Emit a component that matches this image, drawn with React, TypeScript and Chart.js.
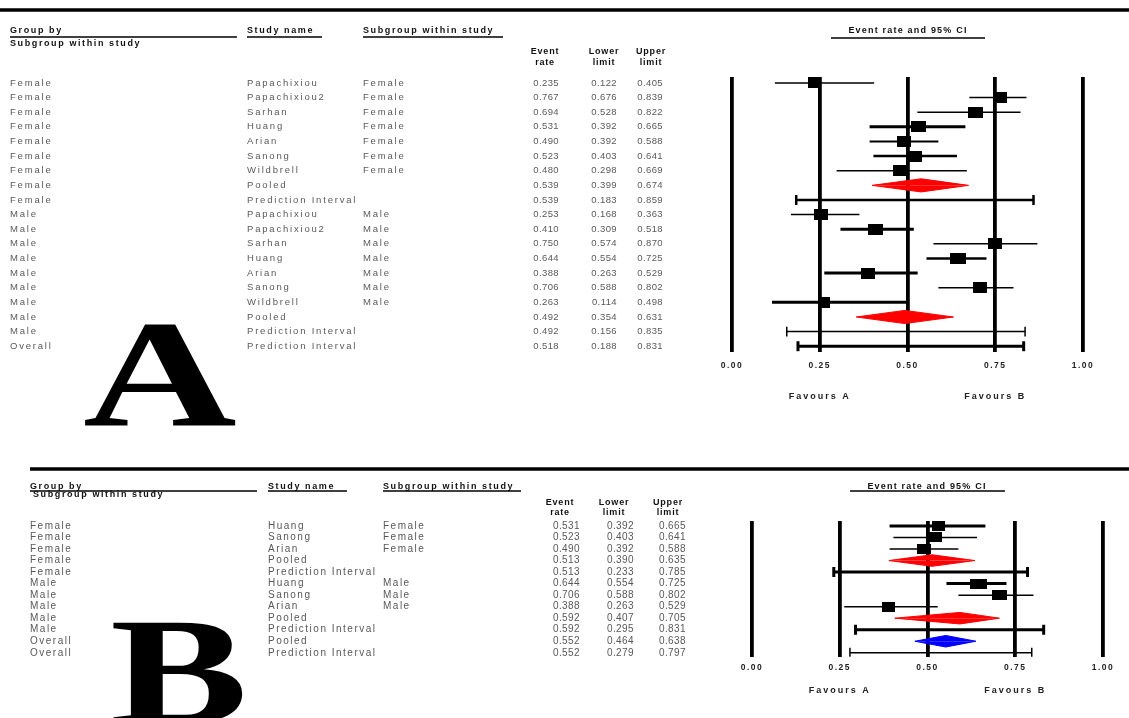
import { useEffect, useRef } from 'react';
import { Chart, registerables } from 'chart.js';

Chart.register(...registerables);

const SANS = '"Liberation Sans", Arial, sans-serif';
const SERIF = '"Liberation Serif", "Times New Roman", serif';

// ---------- Panel A: all studies, split by sex ----------
const groupA = [
  'Female', 'Female', 'Female', 'Female', 'Female', 'Female', 'Female', 'Female', 'Female',
  'Male', 'Male', 'Male', 'Male', 'Male', 'Male', 'Male', 'Male', 'Male',
  'Overall',
];
const studyA = [
  'Papachixiou', 'Papachixiou2', 'Sarhan', 'Huang', 'Arian', 'Sanong', 'Wildbrell', 'Pooled', 'Prediction Interval',
  'Papachixiou', 'Papachixiou2', 'Sarhan', 'Huang', 'Arian', 'Sanong', 'Wildbrell', 'Pooled', 'Prediction Interval',
  'Prediction Interval',
];
const subgroupA = [
  'Female', 'Female', 'Female', 'Female', 'Female', 'Female', 'Female', '', '',
  'Male', 'Male', 'Male', 'Male', 'Male', 'Male', 'Male', '', '',
  '',
];
const rateA = [0.235, 0.767, 0.694, 0.531, 0.490, 0.523, 0.480, 0.539, 0.539, 0.253, 0.410, 0.750, 0.644, 0.388, 0.706, 0.263, 0.492, 0.492, 0.518];
const lowerA = [0.122, 0.676, 0.528, 0.392, 0.392, 0.403, 0.298, 0.399, 0.183, 0.168, 0.309, 0.574, 0.554, 0.263, 0.588, 0.114, 0.354, 0.156, 0.188];
const upperA = [0.405, 0.839, 0.822, 0.665, 0.588, 0.641, 0.669, 0.674, 0.859, 0.363, 0.518, 0.870, 0.725, 0.529, 0.802, 0.498, 0.631, 0.835, 0.831];

// ---------- Panel B: three studies reporting both sexes ----------
const groupB = ['Female', 'Female', 'Female', 'Female', 'Female', 'Male', 'Male', 'Male', 'Male', 'Male', 'Overall', 'Overall'];
const studyB = ['Huang', 'Sanong', 'Arian', 'Pooled', 'Prediction Interval', 'Huang', 'Sanong', 'Arian', 'Pooled', 'Prediction Interval', 'Pooled', 'Prediction Interval'];
const subgroupB = ['Female', 'Female', 'Female', '', '', 'Male', 'Male', 'Male', '', '', '', ''];
const rateB = [0.531, 0.523, 0.490, 0.513, 0.513, 0.644, 0.706, 0.388, 0.592, 0.592, 0.552, 0.552];
const lowerB = [0.392, 0.403, 0.392, 0.390, 0.233, 0.554, 0.588, 0.263, 0.407, 0.295, 0.464, 0.279];
const upperB = [0.665, 0.641, 0.588, 0.635, 0.785, 0.725, 0.802, 0.529, 0.705, 0.831, 0.638, 0.797];

// ---------- shared axis / text ----------
const xTicks = [0, 0.25, 0.5, 0.75, 1];
const favourLabels = ['Favours A', 'Favours B'];
const favourAt = [0.25, 0.75];
const columnHeads = ['Group by', 'Study name', 'Subgroup within study'];
const secondHead = 'Subgroup within study';
const numberHeads = [['Event', 'rate'], ['Lower', 'limit'], ['Upper', 'limit']];
const ciTitle = 'Event rate and 95% CI';

// ---------- styling of the marks (line weight, box size per row) ----------
const strokeA = [1.5, 1.5, 1.5, 3, 2, 2.5, 1.5, 0, 2.5, 1.5, 3, 1.5, 2.5, 3, 1.5, 3, 0, 1.5, 3];
const boxWidthA = [13, 12, 15, 15, 14, 13, 15, 0, 0, 14, 15, 14, 16, 14, 14, 11, 0, 0, 0];
const strokeB = [3, 1.5, 1.5, 0, 3, 3, 1.5, 1.5, 0, 3, 0, 1.5];
const boxWidthB = [13, 13, 14, 0, 0, 17, 15, 13, 0, 0, 0, 0];

type Panel = {
  group: string[]; study: string[]; subgroup: string[];
  rate: number[]; lower: number[]; upper: number[];
  stroke: number[]; boxW: number[];
};

type Layout = {
  width: number; height: number;
  pad: { left: number; right: number; top: number; bottom: number };
  tickPad: number; yMin: number; yMax: number;
  boxH: number; diamond: number; cap: number;
  rule: { x0: number; x1: number; y: number };
  headY: number; head2: { x: number; y: number }; underlineY: number;
  cols: number[]; underlineEnd: number[];
  numRight: number[]; numHeadX: number[]; numHeadY: number[];
  ci: { cx: number; y: number; x0: number; x1: number; uy: number };
  favoursY: number;
  rowFont: number; rowSpacing: number; rowColor: string;
  letter: { ch: string; x: number; baseline: number; size: number; stretch: number };
};

const panelA: Panel = { group: groupA, study: studyA, subgroup: subgroupA, rate: rateA, lower: lowerA, upper: upperA, stroke: strokeA, boxW: boxWidthA };
const panelB: Panel = { group: groupB, study: studyB, subgroup: subgroupB, rate: rateB, lower: lowerB, upper: upperB, stroke: strokeB, boxW: boxWidthB };

const layoutA: Layout = {
  width: 1129, height: 460,
  pad: { left: 732, right: 46, top: 77, bottom: 80 },
  tickPad: 9, yMin: -0.41, yMax: 18.38,
  boxH: 11, diamond: 0.45, cap: 0.34,
  rule: { x0: 0, x1: 1129, y: 10 },
  headY: 31, head2: { x: 10, y: 44 }, underlineY: 37,
  cols: [10, 247, 363], underlineEnd: [237, 322, 503],
  numRight: [559, 617, 663], numHeadX: [545, 604, 651], numHeadY: [52, 63],
  ci: { cx: 908, y: 31, x0: 831, x1: 985, uy: 38 },
  favoursY: 397,
  rowFont: 9.5, rowSpacing: 1.8, rowColor: '#5a5a5a',
  letter: { ch: 'A', x: 83, baseline: 425, size: 152, stretch: 1.4 },
};

const layoutB: Layout = {
  width: 1129, height: 258,
  pad: { left: 752, right: 26, top: 61, bottom: 39 },
  tickPad: 6, yMin: -0.43, yMax: 11.35,
  boxH: 10, diamond: 0.5, cap: 0.43,
  rule: { x0: 30, x1: 1129, y: 9 },
  headY: 27, head2: { x: 33, y: 35 }, underlineY: 31,
  cols: [30, 268, 383], underlineEnd: [257, 347, 521],
  numRight: [580, 634, 686], numHeadX: [560, 614, 668], numHeadY: [43, 53],
  ci: { cx: 927, y: 27, x0: 850, x1: 1005, uy: 31 },
  favoursY: 231,
  rowFont: 10, rowSpacing: 1.5, rowColor: '#585858',
  letter: { ch: 'B', x: 110, baseline: 263, size: 152, stretch: 1.36 },
};

function boxMarker(w: number, h: number) {
  const c = document.createElement('canvas');
  c.width = w;
  c.height = h;
  const g = c.getContext('2d')!;
  g.fillStyle = '#000';
  g.fillRect(0, 0, w, h);
  return c;
}

function buildDatasets(p: Panel, L: Layout) {
  const sets: any[] = [];
  p.study.forEach((name, i) => {
    const lo = p.lower[i];
    const hi = p.upper[i];
    const est = p.rate[i];
    if (name === 'Pooled') {
      const color = p.group[i] === 'Overall' ? '#0000ff' : '#ff0000';
      for (const dir of [-1, 1]) {
        sets.push({
          data: [{ x: lo, y: i }, { x: est, y: i + dir * L.diamond }, { x: hi, y: i }],
          showLine: true, fill: { value: i }, backgroundColor: color, borderColor: color,
          borderWidth: 1, pointRadius: 0, tension: 0,
        });
      }
    } else if (name === 'Prediction Interval') {
      const c = L.cap;
      sets.push({
        data: [
          { x: lo, y: i - c }, { x: lo, y: i + c }, { x: lo, y: i },
          { x: hi, y: i }, { x: hi, y: i - c }, { x: hi, y: i + c },
        ],
        showLine: true, fill: false, borderColor: '#000', borderWidth: p.stroke[i], pointRadius: 0,
      });
    } else {
      sets.push({
        data: [{ x: lo, y: i }, { x: hi, y: i }],
        showLine: true, fill: false, borderColor: '#000', borderWidth: p.stroke[i], pointRadius: 0,
      });
      sets.push({
        data: [{ x: est, y: i }],
        showLine: false, pointStyle: boxMarker(p.boxW[i], L.boxH), pointRadius: 6,
        backgroundColor: '#000', borderColor: '#000',
      });
    }
  });
  return sets;
}

function tablePlugin(p: Panel, L: Layout) {
  return {
    id: 'forestTable',
    beforeDraw(chart: any) {
      chart.ctx.letterSpacing = '1.5px';
    },
    afterDraw(chart: any) {
      const ctx = chart.ctx;
      const ys = chart.scales.y;
      const xs = chart.scales.x;
      const hline = (x0: number, x1: number, y: number, w: number) => {
        ctx.lineWidth = w;
        ctx.beginPath();
        ctx.moveTo(x0, y);
        ctx.lineTo(x1, y);
        ctx.stroke();
      };
      ctx.save();
      ctx.strokeStyle = '#000';
      hline(L.rule.x0, L.rule.x1, L.rule.y, 3.5);

      // column headings
      ctx.fillStyle = '#111';
      ctx.font = `bold 9px ${SANS}`;
      ctx.textBaseline = 'middle';
      ctx.textAlign = 'left';
      ctx.letterSpacing = '1.6px';
      columnHeads.forEach((t, k) => {
        ctx.fillText(t, L.cols[k], L.headY);
        hline(L.cols[k], L.underlineEnd[k], L.underlineY, 1.3);
      });
      ctx.fillText(secondHead, L.head2.x, L.head2.y);
      ctx.textAlign = 'center';
      ctx.letterSpacing = '0.8px';
      numberHeads.forEach((pair, k) => {
        ctx.fillText(pair[0], L.numHeadX[k], L.numHeadY[0]);
        ctx.fillText(pair[1], L.numHeadX[k], L.numHeadY[1]);
      });
      ctx.letterSpacing = '1.2px';
      ctx.fillText(ciTitle, L.ci.cx, L.ci.y);
      hline(L.ci.x0, L.ci.x1, L.ci.uy, 1.3);

      // rows
      ctx.fillStyle = L.rowColor;
      ctx.font = `${L.rowFont}px ${SANS}`;
      p.study.forEach((s, i) => {
        const y = ys.getPixelForValue(i);
        ctx.textAlign = 'left';
        ctx.letterSpacing = `${L.rowSpacing}px`;
        ctx.fillText(p.group[i], L.cols[0], y);
        ctx.fillText(s, L.cols[1], y);
        if (p.subgroup[i]) ctx.fillText(p.subgroup[i], L.cols[2], y);
        ctx.textAlign = 'right';
        ctx.letterSpacing = '0.4px';
        [p.rate[i], p.lower[i], p.upper[i]].forEach((v, k) => {
          ctx.fillText(v.toFixed(3), L.numRight[k], y);
        });
      });

      // favours labels
      ctx.fillStyle = '#222';
      ctx.font = `bold 9px ${SANS}`;
      ctx.textAlign = 'center';
      ctx.letterSpacing = '2px';
      favourLabels.forEach((t, k) => {
        ctx.fillText(t, xs.getPixelForValue(favourAt[k]), L.favoursY);
      });

      // panel letter
      ctx.letterSpacing = '0px';
      ctx.fillStyle = '#000';
      ctx.font = `bold ${L.letter.size}px ${SERIF}`;
      ctx.textAlign = 'left';
      ctx.textBaseline = 'alphabetic';
      ctx.scale(L.letter.stretch, 1);
      ctx.fillText(L.letter.ch, L.letter.x / L.letter.stretch, L.letter.baseline);
      ctx.restore();
    },
  };
}

function makeChart(canvas: HTMLCanvasElement, p: Panel, L: Layout) {
  return new Chart(canvas, {
    type: 'scatter',
    data: { datasets: buildDatasets(p, L) },
    options: {
      animation: false,
      responsive: false,
      devicePixelRatio: 1,
      events: [],
      layout: { padding: L.pad },
      plugins: { legend: { display: false }, tooltip: { enabled: false } },
      scales: {
        x: {
          type: 'linear',
          min: 0,
          max: 1,
          afterBuildTicks: (axis: any) => {
            axis.ticks = xTicks.map((value) => ({ value }));
          },
          grid: { color: '#000', lineWidth: 3.8, drawTicks: false },
          border: { display: false },
          ticks: {
            padding: L.tickPad,
            color: '#222',
            font: { family: SANS, size: 8.5, weight: 'bold' },
            callback: (v: any) => Number(v).toFixed(2),
          },
        },
        y: { type: 'linear', reverse: true, min: L.yMin, max: L.yMax, display: false },
      },
    } as any,
    plugins: [tablePlugin(p, L)],
  });
}

export default function App() {
  const refA = useRef<HTMLCanvasElement>(null);
  const refB = useRef<HTMLCanvasElement>(null);

  useEffect(() => {
    const a = makeChart(refA.current!, panelA, layoutA);
    const b = makeChart(refB.current!, panelB, layoutB);
    return () => {
      a.destroy();
      b.destroy();
    };
  }, []);

  return (
    <div style={{ position: 'absolute', left: 0, top: 0, width: 1129, height: 718, background: '#fff', overflow: 'hidden' }}>
      <canvas ref={refA} width={layoutA.width} height={layoutA.height} style={{ display: 'block', width: layoutA.width, height: layoutA.height }} />
      <canvas ref={refB} width={layoutB.width} height={layoutB.height} style={{ display: 'block', width: layoutB.width, height: layoutB.height }} />
    </div>
  );
}
